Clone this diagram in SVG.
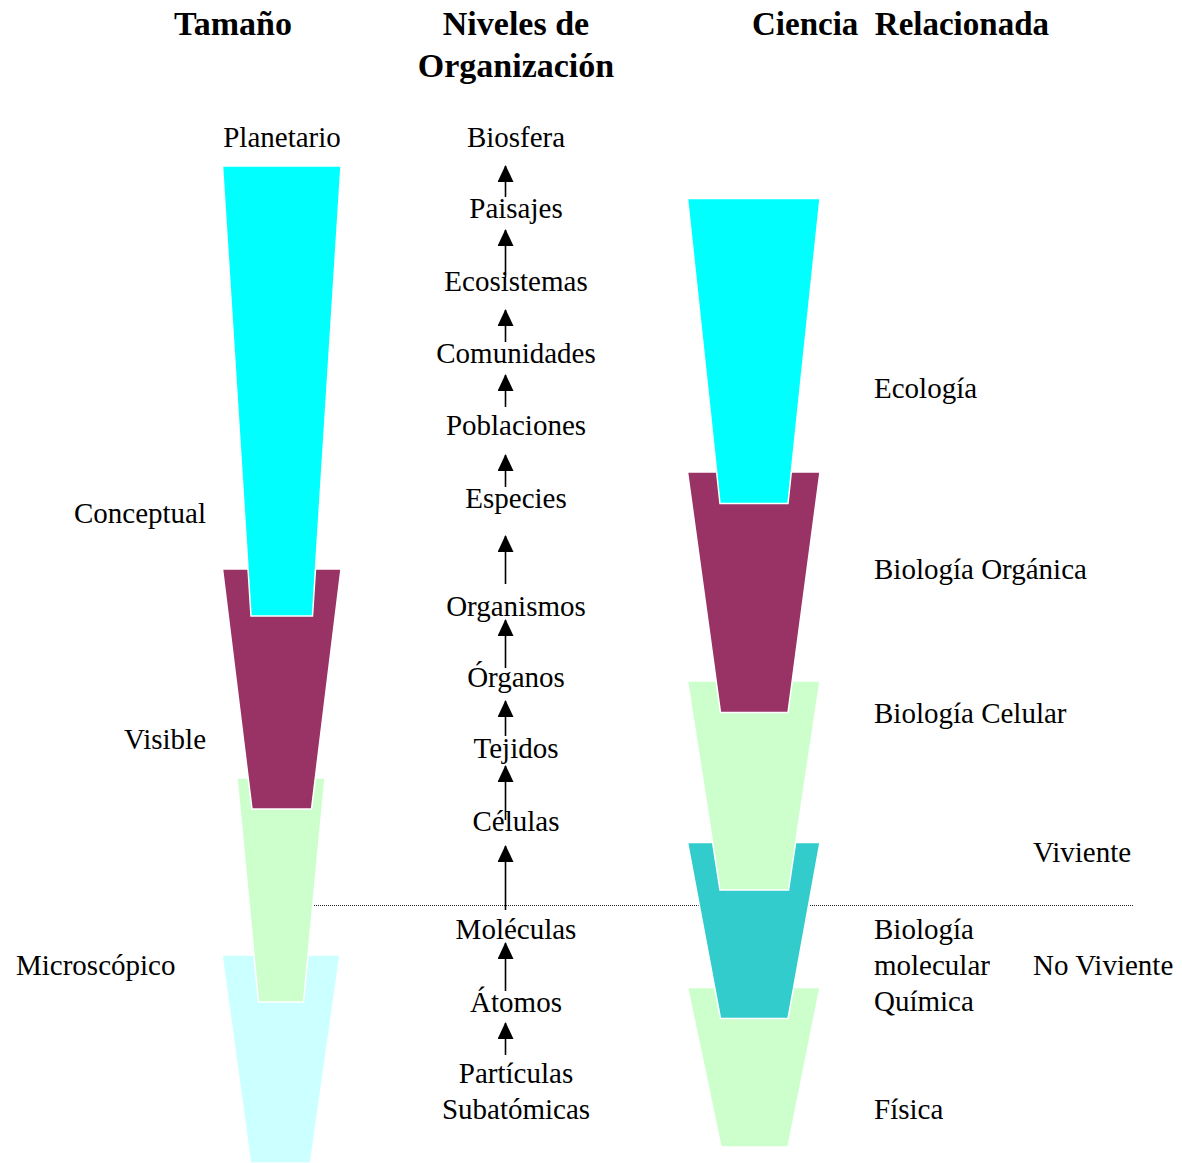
<svg xmlns="http://www.w3.org/2000/svg" width="1182" height="1163" viewBox="0 0 1182 1163">
  <defs>
    <style>
      text { font-family: "Liberation Serif", "Times New Roman", serif; fill: #000; }
      .h { font-size: 34px; font-weight: bold; }
      .t { font-size: 29px; }
      .mid { text-anchor: middle; }
      .end { text-anchor: end; }
      .band { stroke: #fff; stroke-width: 1.5; stroke-linejoin: miter; }
      .cyan { fill: #00ffff; }
      .maroon { fill: #993366; }
      .green { fill: #ccffcc; }
      .teal { fill: #33cccc; }
      .pale { fill: #ccffff; }
      .shaft { stroke: #000; stroke-width: 1.6; fill: none; }
      .divider { stroke: #222; stroke-width: 1; stroke-dasharray: 1 1; fill: none; }
    </style>
    <!-- filled triangular head, tip at the end of the line -->
    <marker id="head" viewBox="0 0 17 16" refX="16" refY="8" markerWidth="17" markerHeight="16" markerUnits="userSpaceOnUse" orient="auto">
      <path d="M0 0 L17 8 L0 16 Z" fill="#000"/>
    </marker>
  </defs>

  <rect width="1182" height="1163" fill="#fff"/>

  <!-- column headings -->
  <g id="headings">
    <text class="h mid" x="233" y="35">Tamaño</text>
    <text class="h mid" x="516" y="35">Niveles de</text>
    <text class="h mid" x="516" y="77">Organización</text>
    <text class="h" x="752" y="35" xml:space="preserve" textLength="297" lengthAdjust="spacingAndGlyphs">Ciencia  Relacionada</text>
  </g>

  <!-- dividing line between living and non-living levels -->
  <g id="divider">
    <line class="divider" x1="312" y1="905.5" x2="1134" y2="905.5"/>
  </g>

  <!-- size scale bands (bottom first so upper bands overlap) -->
  <g id="size-bands">
    <polygon id="band-microscopic" class="band pale" points="222,955 340,955 310.5,1163 250.5,1163"/>
    <polygon id="band-visible-low" class="band green" points="237,778 325,778 303.5,1002 258.5,1002"/>
    <polygon id="band-visible" class="band maroon" points="222.5,569 341,569 311.5,809 252,809"/>
    <polygon id="band-conceptual" class="band cyan" points="222.5,166 341,166 312.5,616 251,616"/>
  </g>

  <!-- related science bands -->
  <g id="science-bands">
    <polygon id="band-fisica" class="band green" points="687.5,987.5 820,987.5 788,1147 721,1147"/>
    <polygon id="band-molecular" class="band teal" points="687.5,842.5 820,842.5 788,1018.5 720.5,1018.5"/>
    <polygon id="band-celular" class="band green" points="687.5,681 820,681 788.5,890 720,890"/>
    <polygon id="band-organica" class="band maroon" points="687.5,472 820,472 788,712.5 720.5,712.5"/>
    <polygon id="band-ecologia" class="band cyan" points="687.5,198.5 820,198.5 788,503.5 720,503.5"/>
  </g>

  <!-- size labels -->
  <g id="size-labels">
    <text class="t mid" x="282" y="147">Planetario</text>
    <text class="t end" x="206" y="523">Conceptual</text>
    <text class="t end" x="206" y="749">Visible</text>
    <text class="t" x="16" y="975">Microscópico</text>
  </g>

  <!-- arrows between levels, drawn bottom to top -->
  <g id="connectors">
    <line class="shaft" x1="505.5" y1="197" x2="505.5" y2="166" marker-end="url(#head)"/>
    <line class="shaft" x1="505.5" y1="277" x2="505.5" y2="230" marker-end="url(#head)"/>
    <line class="shaft" x1="505.5" y1="342" x2="505.5" y2="310" marker-end="url(#head)"/>
    <line class="shaft" x1="505.5" y1="407" x2="505.5" y2="375" marker-end="url(#head)"/>
    <line class="shaft" x1="505.5" y1="487" x2="505.5" y2="455" marker-end="url(#head)"/>
    <line class="shaft" x1="505.5" y1="584" x2="505.5" y2="536" marker-end="url(#head)"/>
    <line class="shaft" x1="505.5" y1="668" x2="505.5" y2="620" marker-end="url(#head)"/>
    <line class="shaft" x1="505.5" y1="736" x2="505.5" y2="701" marker-end="url(#head)"/>
    <line class="shaft" x1="505.5" y1="820" x2="505.5" y2="766" marker-end="url(#head)"/>
    <line class="shaft" x1="505.5" y1="910" x2="505.5" y2="846" marker-end="url(#head)"/>
    <line class="shaft" x1="505.5" y1="991" x2="505.5" y2="943" marker-end="url(#head)"/>
    <line class="shaft" x1="505.5" y1="1055" x2="505.5" y2="1023" marker-end="url(#head)"/>
  </g>

  <!-- organisation levels -->
  <g id="levels">
    <g id="biosfera"><text class="t mid" x="516" y="147">Biosfera</text></g>
    <g id="paisajes"><text class="t mid" x="516" y="218">Paisajes</text></g>
    <g id="ecosistemas"><text class="t mid" x="516" y="290.5">Ecosistemas</text></g>
    <g id="comunidades"><text class="t mid" x="516" y="362.5">Comunidades</text></g>
    <g id="poblaciones"><text class="t mid" x="516" y="434.5">Poblaciones</text></g>
    <g id="especies"><text class="t mid" x="516" y="508">Especies</text></g>
    <g id="organismos"><text class="t mid" x="516" y="615.5">Organismos</text></g>
    <g id="organos"><text class="t mid" x="516" y="687">Órganos</text></g>
    <g id="tejidos"><text class="t mid" x="516" y="758">Tejidos</text></g>
    <g id="celulas"><text class="t mid" x="516" y="830.5">Células</text></g>
    <g id="moleculas"><text class="t mid" x="516" y="939">Moléculas</text></g>
    <g id="atomos"><text class="t mid" x="516" y="1011.5">Átomos</text></g>
    <g id="particulas">
      <text class="t mid" x="516" y="1083">Partículas</text>
      <text class="t mid" x="516" y="1119">Subatómicas</text>
    </g>
  </g>

  <!-- science labels -->
  <g id="science-labels">
    <text class="t" x="874" y="398">Ecología</text>
    <text class="t" x="874" y="579">Biología Orgánica</text>
    <text class="t" x="874" y="723">Biología Celular</text>
    <text class="t" x="874" y="939">Biología</text>
    <text class="t" x="874" y="975">molecular</text>
    <text class="t" x="874" y="1011">Química</text>
    <text class="t" x="874" y="1119">Física</text>
    <text class="t" x="1033" y="862">Viviente</text>
    <text class="t" x="1033" y="975">No Viviente</text>
  </g>
</svg>
